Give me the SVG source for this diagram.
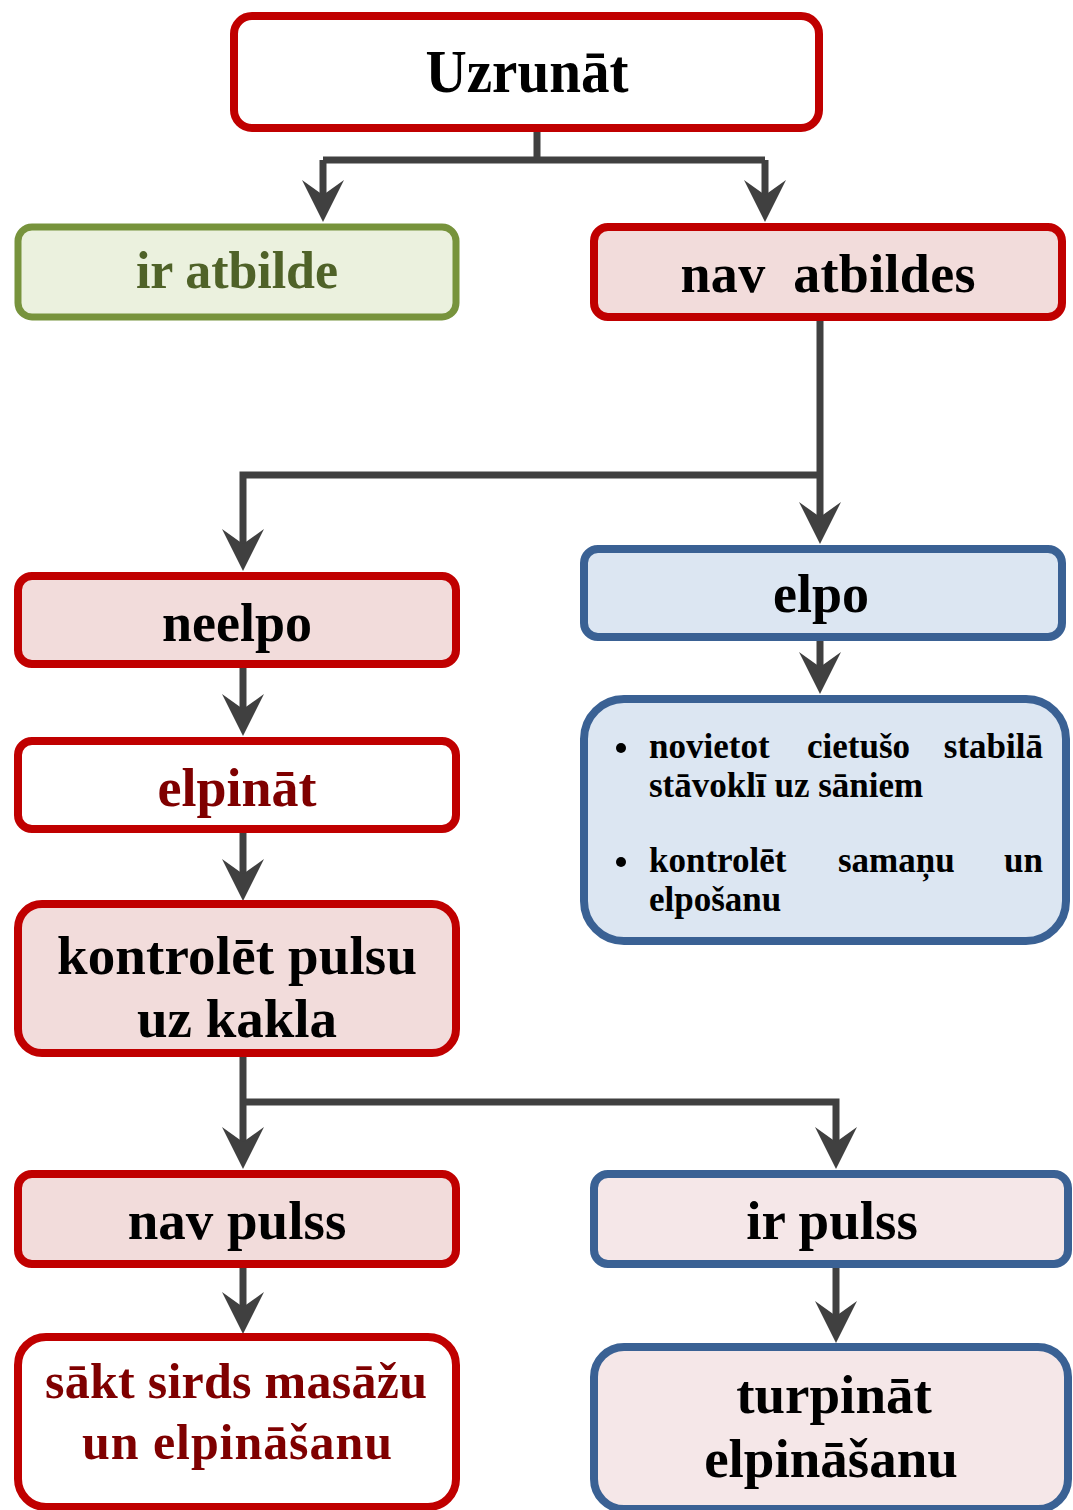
<svg xmlns="http://www.w3.org/2000/svg" xmlns:xlink="http://www.w3.org/1999/xlink" width="1073" height="1510" viewBox="0 0 1073 1510">
<defs>
<style>
.box{stroke-width:8}
.red{stroke:#C00000;fill:#F2DCDB}
.redw{stroke:#C00000;fill:#FFFFFF}
.green{stroke:#77933C;fill:#EBF1DE;stroke-width:7}
.blue{stroke:#3A6194;fill:#DCE6F2}
.bluep{stroke:#3A6194;fill:#F5E7E8}
text{font-family:"Liberation Serif","Times New Roman",serif;font-weight:bold;text-anchor:middle;fill:#000}
.dr{fill:#7F0000}
.gt{fill:#4F6228}
.sm{font-size:35px;text-anchor:start}
.conn{fill:none;stroke:#404040;stroke-width:7;stroke-linejoin:miter}
</style>
<path id="ah" d="M0,0 L-21,-42 L0,-27 L21,-42 Z" fill="#404040"/>
</defs>
<rect width="1073" height="1510" fill="#FFFFFF"/>

<g id="connectors">
<path class="conn" d="M537,132 V160 M323,160 H765 M323,160 V200 M765,160 V200"/>
<path class="conn" d="M820,321 V520 M820,475 H243 V548"/>
<path class="conn" d="M243,668 V713"/>
<path class="conn" d="M243,833 V878"/>
<path class="conn" d="M820,641 V671"/>
<path class="conn" d="M243,1057 V1146 M243,1102 H836 V1146"/>
<path class="conn" d="M243,1268 V1311"/>
<path class="conn" d="M836,1268 V1320"/>
<use xlink:href="#ah" x="323" y="222"/>
<use xlink:href="#ah" x="765" y="222"/>
<use xlink:href="#ah" x="820" y="544"/>
<use xlink:href="#ah" x="243" y="571"/>
<use xlink:href="#ah" x="243" y="736"/>
<use xlink:href="#ah" x="243" y="901"/>
<use xlink:href="#ah" x="820" y="694"/>
<use xlink:href="#ah" x="243" y="1169"/>
<use xlink:href="#ah" x="836" y="1169"/>
<use xlink:href="#ah" x="243" y="1334"/>
<use xlink:href="#ah" x="836" y="1343"/>
</g>

<g id="uzrunat">
<rect class="box redw" x="234" y="16" width="585" height="112" rx="18"/>
<text x="527" y="92" font-size="62" textLength="203" lengthAdjust="spacingAndGlyphs">Uzrunāt</text>
</g>

<g id="ir-atbilde">
<rect class="box green" x="18" y="227" width="438" height="90" rx="14"/>
<text class="gt" x="237" y="288" font-size="52" textLength="202">ir atbilde</text>
</g>

<g id="nav-atbildes">
<rect class="box red" x="594" y="227" width="468" height="90" rx="14"/>
<text x="828" y="292" font-size="54" textLength="295" xml:space="preserve">nav  atbildes</text>
</g>

<g id="neelpo">
<rect class="box red" x="18" y="576" width="438" height="88" rx="14"/>
<text x="237" y="641" font-size="54">neelpo</text>
</g>

<g id="elpinat">
<rect class="box redw" x="18" y="741" width="438" height="88" rx="14"/>
<text class="dr" x="237" y="806" font-size="54">elpināt</text>
</g>

<g id="kontrolet-pulsu">
<rect class="box red" x="18" y="904" width="438" height="149" rx="24"/>
<text x="237" y="974" font-size="55" textLength="360">kontrolēt pulsu</text>
<text x="237" y="1037" font-size="55">uz kakla</text>
</g>

<g id="nav-pulss">
<rect class="box red" x="18" y="1174" width="438" height="90" rx="14"/>
<text x="237" y="1239" font-size="55">nav pulss</text>
</g>

<g id="sakt">
<rect class="box redw" x="18" y="1337" width="438" height="170" rx="28"/>
<text class="dr" x="236" y="1398" font-size="50" textLength="382">sākt sirds masāžu</text>
<text class="dr" x="237" y="1459" font-size="50" textLength="310">un elpināšanu</text>
</g>

<g id="elpo">
<rect class="box blue" x="584" y="549" width="478" height="88" rx="14"/>
<text x="821" y="612" font-size="54">elpo</text>
</g>

<g id="elpo-actions">
<rect class="box blue" x="584" y="699" width="482" height="242" rx="40"/>
<circle cx="621" cy="748" r="5" fill="#000"/>
<text class="sm" x="649" y="758">novietot</text>
<text class="sm" x="807" y="758">cietušo</text>
<text class="sm" x="1043" y="758" style="text-anchor:end">stabilā</text>
<text class="sm" x="649" y="797">stāvoklī uz sāniem</text>
<circle cx="621" cy="862" r="5" fill="#000"/>
<text class="sm" x="649" y="872">kontrolēt</text>
<text class="sm" x="838" y="872">samaņu</text>
<text class="sm" x="1043" y="872" style="text-anchor:end">un</text>
<text class="sm" x="649" y="911">elpošanu</text>
</g>

<g id="ir-pulss">
<rect class="box bluep" x="594" y="1174" width="474" height="90" rx="14"/>
<text x="832" y="1239" font-size="55">ir pulss</text>
</g>

<g id="turpinat">
<rect class="box bluep" x="594" y="1347" width="474" height="162" rx="30"/>
<text x="834" y="1413" font-size="55">turpināt</text>
<text x="831" y="1477" font-size="55">elpināšanu</text>
</g>
</svg>
